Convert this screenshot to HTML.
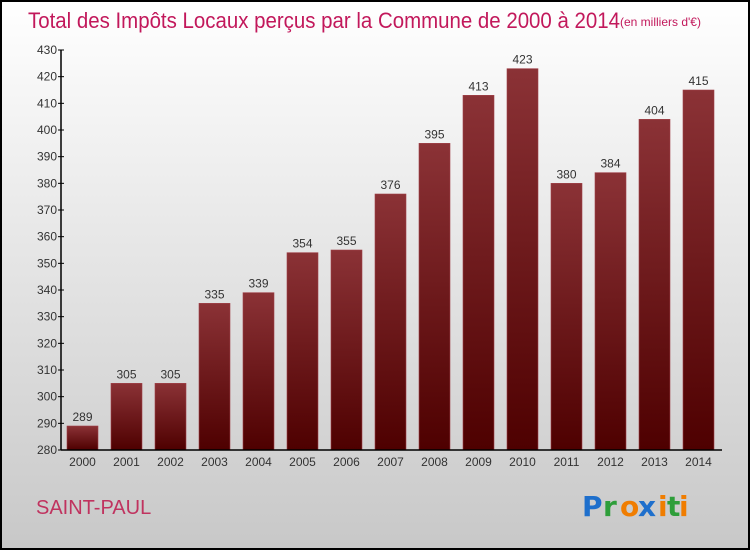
<!DOCTYPE html>
<html><head><meta charset="utf-8"><style>
body{margin:0;width:750px;height:550px;overflow:hidden}
svg{display:block;font-family:"Liberation Sans",sans-serif}
</style></head><body>
<svg id="c" width="750" height="550">
<defs>
<linearGradient id="bg" x1="0" y1="0" x2="0" y2="1"><stop offset="0" stop-color="#ffffff"/><stop offset="1" stop-color="#c8c8c8"/></linearGradient>
<linearGradient id="bar" x1="0" y1="0" x2="0" y2="1"><stop offset="0" stop-color="#8b3236"/><stop offset="1" stop-color="#4e0000"/></linearGradient>
</defs>
<rect x="1" y="1" width="748" height="548" fill="url(#bg)" stroke="#000" stroke-width="2"/>
<text x="28" y="28" font-size="22" fill="#c2185b" textLength="592" lengthAdjust="spacingAndGlyphs">Total des Impôts Locaux perçus par la Commune de 2000 à 2014</text>
<text x="620" y="26" font-size="12" fill="#c2185b">(en milliers d'€)</text>
<g id="bars"></g>
<g id="axes"></g>
<text x="36" y="514" font-size="20" fill="#c0335f">SAINT-PAUL</text>
<g font-size="28" font-family="'DejaVu Sans',sans-serif" font-weight="bold">
<text x="582" y="516" fill="#1e6fcc">P</text><text x="603" y="516" fill="#2e9e3a">r</text><text x="620" y="516" fill="#f07d00">o</text><text x="638" y="516" fill="#1e6fcc">x</text><text x="658" y="516" fill="#f07d00">i</text><text x="667" y="516" fill="#2e9e3a">t</text><text x="679" y="516" fill="#f07d00">i</text>
</g>
</svg>
<script>
const years=["2000","2001","2002","2003","2004","2005","2006","2007","2008","2009","2010","2011","2012","2013","2014"];
const values=[289,305,305,335,339,354,355,376,395,413,423,380,384,404,415];
const yTicks=[280,290,300,310,320,330,340,350,360,370,380,390,400,410,420,430];
const NS="http://www.w3.org/2000/svg";
const x0=61,x1=722,yTop=50,yBot=450,vMin=280,vMax=430;
const y=v=>yBot-(v-vMin)/(vMax-vMin)*(yBot-yTop);
const step=44;
const xc=i=>82.5+step*i;
function mk(t,a,p){const e=document.createElementNS(NS,t);for(const k in a)e.setAttribute(k,a[k]);p.appendChild(e);return e;}
const gb=document.getElementById('bars'),ga=document.getElementById('axes');
values.forEach((v,i)=>{
 const r=mk('rect',{x:xc(i)-15.5,y:y(v),width:31,height:yBot-y(v),fill:'url(#bar)',stroke:'#a04048','stroke-width':0.6},gb);
 
 
 const t=mk('text',{x:xc(i),y:y(v)-5,'font-size':12,'text-anchor':'middle',fill:'#333'},gb);t.textContent=v;
 
 
 const xl=mk('text',{x:xc(i),y:466,'font-size':12,'text-anchor':'middle',fill:'#333'},ga);xl.textContent=years[i];
 
 
});
const yl=mk('line',{x1:x0,y1:yTop,x2:x0,y2:yBot,stroke:'#000','stroke-width':1.5},ga);


const xlAxis=mk('line',{x1:x0,y1:yBot,x2:x1,y2:yBot,stroke:'#000','stroke-width':1.5},ga);


yTicks.forEach(v=>{
 mk('line',{x1:x0-3,y1:y(v),x2:x0+3,y2:y(v),stroke:'#000'},ga);
 const t=mk('text',{x:x0-4,y:y(v)+4,'font-size':12,'text-anchor':'end',fill:'#333'},ga);t.textContent=v;
 
 
});
</script>
</body></html>
